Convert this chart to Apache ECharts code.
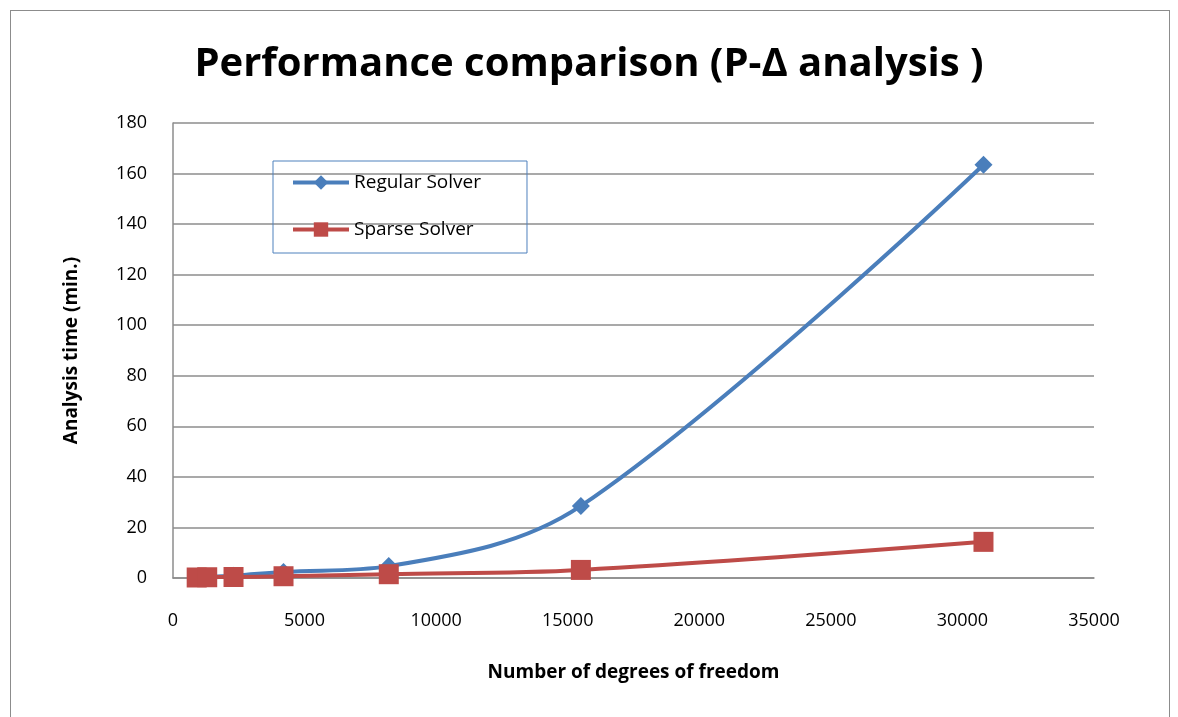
<!DOCTYPE html>
<html>
<head>
<meta charset="utf-8">
<title>Performance comparison</title>
<script src="https://cdn.jsdelivr.net/npm/echarts@6/dist/echarts.min.js"></script>
<style>
  html, body { margin: 0; padding: 0; background: #fff; }
  #frame {
    position: absolute; left: 10px; top: 10px; width: 1160px; height: 720px;
    border: 1px solid #8c8c8c; box-sizing: border-box;
  }
  #chart { position: absolute; left: 0; top: 0; width: 1178px; height: 717px; }
</style>
</head>
<body>
<div id="frame"></div>
<div id="chart"></div>
<script>
// degrees of freedom
const dof = [900, 1300, 2300, 4200, 8200, 15500, 30800]
// analysis time in minutes
const regularSolver = [0.3, 0.5, 0.9, 2.4, 4.7, 28.5, 163.5]
const sparseSolver = [0.2, 0.3, 0.4, 0.7, 1.5, 3.2, 14.3]

const fontFam = '"Open Sans", sans-serif'

function pairs(xs, ys) {
  return xs.map((x, i) => [x, ys[i]])
}

const chart = echarts.init(document.getElementById('chart'))
const options = {
  animation: false,
  textStyle: { fontFamily: fontFam },
  title: {
    text: 'Performance comparison (P-\u0394 analysis )',
    left: 'center',
    top: 40,
    textStyle: { fontSize: 40, fontWeight: 'bold', color: '#000', fontFamily: fontFam }
  },
  legend: {
    orient: 'vertical',
    left: 273,
    top: 161,
    itemWidth: 56,
    itemHeight: 18,
    itemGap: 28,
    padding: [12, 46, 14, 18],
    borderColor: '#4f81bd',
    borderWidth: 1,
    lineStyle: { width: 4 },
    textStyle: { fontSize: 19, color: '#000', fontFamily: fontFam },
    data: ['Regular Solver', 'Sparse Solver']
  },
  grid: { left: 173, right: 84, top: 123, bottom: 139 },
  xAxis: {
    type: 'value',
    min: 0,
    max: 35000,
    interval: 5000,
    name: 'Number of degrees of freedom',
    nameLocation: 'middle',
    nameGap: 85,
    nameTextStyle: { fontSize: 19, fontWeight: 'bold', color: '#000' },
    axisLine: { lineStyle: { color: '#8c8c8c', width: 1.5 } },
    axisTick: { show: true, length: 0 },
    axisLabel: { fontSize: 18, color: '#000', margin: 34, formatter: v => String(v) },
    splitLine: { show: false }
  },
  yAxis: {
    type: 'value',
    min: 0,
    max: 180,
    interval: 20,
    name: 'Analysis time (min.)',
    nameLocation: 'middle',
    nameGap: 92,
    nameTextStyle: { fontSize: 19, fontWeight: 'bold', color: '#000' },
    axisLine: { show: true, lineStyle: { color: '#8c8c8c', width: 1.5 } },
    axisTick: { show: false },
    axisLabel: { fontSize: 18, color: '#000', margin: 26 },
    splitLine: { lineStyle: { color: '#8c8c8c', width: 1.5 } }
  },
  series: [{
    name: 'Regular Solver',
    type: 'line',
    smooth: 0.35,
    data: pairs(dof, regularSolver),
    symbol: 'diamond',
    symbolSize: 18,
    lineStyle: { color: '#4a7ebb', width: 4 },
    itemStyle: { color: '#4a7ebb' }
  }, {
    name: 'Sparse Solver',
    type: 'line',
    smooth: 0.35,
    data: pairs(dof, sparseSolver),
    symbol: 'rect',
    symbolSize: 20,
    lineStyle: { color: '#be4b48', width: 4 },
    itemStyle: { color: '#be4b48' }
  }]
}
chart.setOption(options)
</script>
</body>
</html>
